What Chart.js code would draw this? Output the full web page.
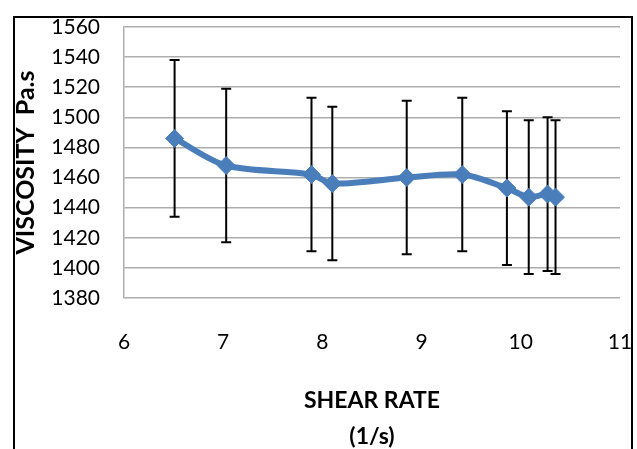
<!DOCTYPE html>
<html>
<head>
<meta charset="utf-8">
<script src="https://cdn.jsdelivr.net/npm/chart.js@4.4.1/dist/chart.umd.min.js"></script>
<style>
  html, body { margin: 0; padding: 0; background: #fff; overflow: hidden; }
  #wrap { position: relative; width: 637px; height: 449px; }
  #frame { position: absolute; left: 13px; top: 16px; width: 616px; height: 460px;
           border: 2px solid #000; pointer-events: none; }
  canvas { position: absolute; left: 0; top: 0; }
</style>
</head>
<body>
<div id="wrap">
  <canvas id="chart" width="637" height="449"></canvas>
  <div id="frame"></div>
</div>
<script>
// Shear rate (1/s) and measured viscosity (Pa.s) with +/- error
const shearRate = [6.51, 7.03, 7.89, 8.10, 8.85, 9.41, 9.86, 10.08, 10.27, 10.35];
const viscosity = [1486, 1468, 1462, 1456, 1460, 1462, 1453, 1447, 1449, 1447];
const viscosityError = [52, 51, 51, 51, 51, 51, 51, 51, 51, 51];

const xTitle = ['SHEAR RATE', '(1/s)'];
const yTitle = 'VISCOSITY  Pa.s';

const FONT = "'Lato', sans-serif";
const BLUE = '#4a7ebb';

// Vertical error bars with caps, drawn beneath the line and markers
const errorBars = {
  id: 'errorBars',
  beforeDatasetsDraw(chart) {
    const { ctx, scales: { x, y } } = chart;
    ctx.save();
    ctx.strokeStyle = '#000';
    ctx.lineWidth = 2;
    shearRate.forEach((sr, i) => {
      const px = x.getPixelForValue(sr);
      const top = y.getPixelForValue(viscosity[i] + viscosityError[i]);
      const bot = y.getPixelForValue(viscosity[i] - viscosityError[i]);
      ctx.beginPath();
      ctx.moveTo(px, top); ctx.lineTo(px, bot);
      ctx.moveTo(px - 5, top); ctx.lineTo(px + 5, top);
      ctx.moveTo(px - 5, bot); ctx.lineTo(px + 5, bot);
      ctx.stroke();
    });
    ctx.restore();
  }
};

// keep the plot area fixed: no extra room for overhanging tick labels
function noOverhang(scale) {
  scale.paddingLeft = 0; scale.paddingRight = 0;
  scale.paddingTop = 0; scale.paddingBottom = 0;
}

new Chart(document.getElementById('chart'), {
  type: 'scatter',
  data: {
    datasets: [{
      data: shearRate.map((sr, i) => ({ x: sr, y: viscosity[i] })),
      showLine: true,
      borderColor: BLUE,
      backgroundColor: BLUE,
      borderWidth: 6,
      tension: 0.3,
      pointStyle: 'rectRot',
      pointRadius: 9,
      pointHoverRadius: 9,
      pointBorderWidth: 1
    }]
  },
  options: {
    responsive: false,
    animation: false,
    devicePixelRatio: 1,
    layout: { padding: { left: 0, top: 27, right: 17, bottom: 0 } },
    plugins: { legend: { display: false }, tooltip: { enabled: false } },
    scales: {
      x: {
        type: 'linear',
        min: 6, max: 11,
        afterFit(scale) { scale.height = 151; noOverhang(scale); },
        grid: { display: false, drawTicks: false },
        border: { display: false },
        ticks: {
          stepSize: 1, autoSkip: false, maxRotation: 0, padding: 32, color: '#000',
          font: { family: FONT, size: 21 },
          callback: v => String(v)
        },
        title: {
          display: true, text: xTitle, color: '#000',
          font: { family: FONT, size: 23, weight: 'bold', lineHeight: 1.55 },
          padding: { top: 0, bottom: -5 }
        }
      },
      y: {
        min: 1380, max: 1560,
        afterFit(scale) { scale.width = 124; noOverhang(scale); },
        grid: { color: '#adadad', lineWidth: 1.5, drawTicks: false },
        border: { display: true, color: '#adadad', width: 1.5 },
        ticks: {
          stepSize: 20, autoSkip: false, padding: 24, color: '#000',
          font: { family: FONT, size: 21 },
          callback: v => String(v)
        },
        title: {
          display: true, text: yTitle, color: '#000',
          font: { family: FONT, size: 25, weight: 'bold', lineHeight: 1.2 },
          padding: { top: 11, bottom: 0 }
        }
      }
    }
  },
  plugins: [errorBars]
});
</script>
</body>
</html>
